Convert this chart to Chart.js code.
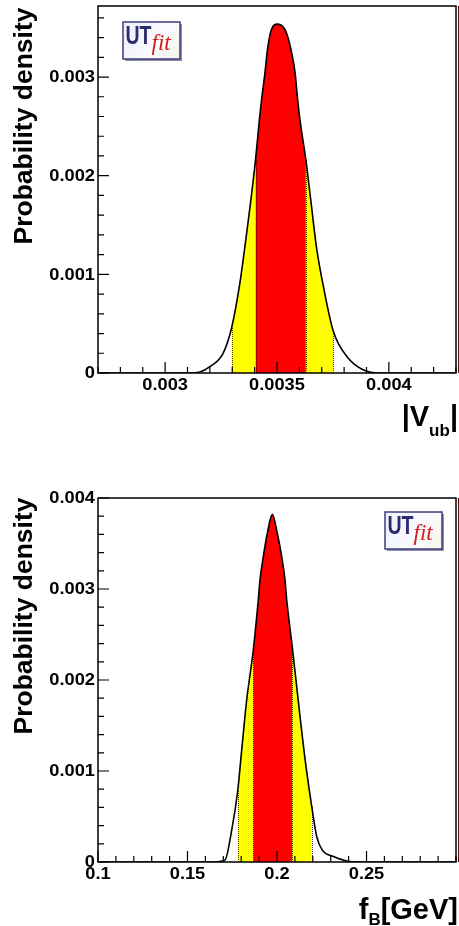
<!DOCTYPE html>
<html>
<head>
<meta charset="utf-8">
<script src="https://cdn.jsdelivr.net/npm/chart.js@4"></script>
<style>
  body { margin: 0; background: #fff; }
  canvas { display: block; }
</style>
</head>
<body>
<canvas id="vubChart" width="459" height="463"></canvas>
<canvas id="fbChart" width="459" height="463"></canvas>
<script>
// |Vub| probability density
const vubX = [0.0027, 0.0031, 0.003155, 0.0032, 0.003259, 0.003297, 0.003334, 0.003364, 0.003383, 0.003404,
  0.003421, 0.003431, 0.003446, 0.003457, 0.003472, 0.003503, 0.00354, 0.003566, 0.003581, 0.003591,
  0.003603, 0.003629, 0.003651, 0.003678, 0.003708, 0.003752, 0.003813, 0.003887, 0.00396, 0.0043];
const vubY = [0, 0, 0.00001, 0.000064, 0.0002, 0.000456, 0.00091, 0.00141, 0.00175, 0.00216,
  0.00256, 0.00277, 0.00304, 0.00327, 0.00346, 0.003536, 0.00346, 0.00324, 0.00304, 0.0028,
  0.00256, 0.00216, 0.00175, 0.00125, 0.00087, 0.00042, 0.000165, 0.00003, 0, 0];
const vubBand95 = [0.003297, 0.003752];
const vubBand68 = [0.003404, 0.003629];
const vubTicksX = [0.003, 0.0035, 0.004];
const vubTickLabelsX = ['0.003', '0.0035', '0.004'];
const vubTicksY = [0, 0.001, 0.002, 0.003];
const vubTickLabelsY = ['0', '0.001', '0.002', '0.003'];

// fB probability density
const fbX = [0.1, 0.1635, 0.1709, 0.1747, 0.17804, 0.18028, 0.18307, 0.18676, 0.18955, 0.1905,
  0.19235, 0.19458, 0.19737, 0.20017, 0.20263, 0.20447, 0.20542, 0.20855, 0.21285, 0.2162,
  0.21939, 0.22218, 0.2253, 0.2315, 0.239, 0.2464, 0.3];
const fbY = [0, 0, 0.00002, 0.00035, 0.00078, 0.00123, 0.00178, 0.00233, 0.00288, 0.0031,
  0.003355, 0.00361, 0.00382, 0.00361, 0.003355, 0.0031, 0.00288, 0.00236, 0.0016, 0.00105,
  0.00061, 0.00028, 0.00013, 0.00006, 0.00001, 0, 0];
const fbBand95 = [0.17804, 0.21939];
const fbBand68 = [0.18676, 0.20855];
const fbTicksX = [0.1, 0.15, 0.2, 0.25];
const fbTickLabelsX = ['0.1', '0.15', '0.2', '0.25'];
const fbTicksY = [0, 0.001, 0.002, 0.003, 0.004];
const fbTickLabelsY = ['0', '0.001', '0.002', '0.003', '0.004'];

const FONT = '"Liberation Sans", Arial, Helvetica, sans-serif';

function points(xs, ys, lo, hi) {
  return xs.map((x, i) => ({ x: x, y: ys[i] }))
    .filter(p => p.x >= lo - 1e-12 && p.x <= hi + 1e-12);
}

function wideText(ctx, text, x, y, sx, align) {
  ctx.save();
  ctx.translate(x, y);
  ctx.scale(sx, 1);
  ctx.textAlign = align;
  ctx.fillText(text, 0, 0);
  ctx.restore();
}

function drawLogo(ctx, x, y) {
  ctx.save();
  ctx.fillStyle = '#8e8ea6';
  ctx.fillRect(x + 2, y + 2, 57, 37);
  const g = ctx.createLinearGradient(x, y, x + 57, y + 37);
  g.addColorStop(0, '#eceffb');
  g.addColorStop(0.6, '#fbfbff');
  g.addColorStop(1, '#f6f3e6');
  ctx.fillStyle = g;
  ctx.fillRect(x, y, 57, 37);
  ctx.strokeStyle = '#3c3c7c';
  ctx.lineWidth = 1.5;
  ctx.strokeRect(x, y, 57, 37);
  ctx.fillStyle = '#2b2b70';
  ctx.font = 'bold 25px ' + FONT;
  ctx.textBaseline = 'alphabetic';
  wideText(ctx, 'UT', x + 2.5, y + 21.5, 0.78, 'left');
  ctx.fillStyle = '#d41c1c';
  ctx.font = 'italic 23px "Liberation Serif", "DejaVu Serif", serif';
  ctx.textAlign = 'left';
  ctx.fillText('fit', x + 28.5, y + 28);
  ctx.restore();
}

function rootFrame(cfg) {
  return {
    id: 'rootFrame',
    afterDatasetsDraw(chart) {
      const ctx = chart.ctx;
      const a = chart.chartArea;
      const xs = chart.scales.x;
      const ys = chart.scales.y;
      ctx.save();

      // dotted edges of the bands
      ctx.strokeStyle = 'rgba(0,0,0,0.75)';
      ctx.lineWidth = 1;
      ctx.setLineDash([1, 1]);
      cfg.edges.forEach(b => {
        const i = cfg.xData.findIndex(v => Math.abs(v - b) < 1e-12);
        const px = Math.round(xs.getPixelForValue(b)) + 0.5;
        ctx.beginPath();
        ctx.moveTo(px, a.bottom);
        ctx.lineTo(px, ys.getPixelForValue(cfg.yData[i]));
        ctx.stroke();
      });
      ctx.setLineDash([]);

      // frame
      ctx.strokeStyle = '#000';
      ctx.lineWidth = 1.5;
      ctx.strokeRect(a.left, a.top, a.right - a.left, a.bottom - a.top);
      ctx.strokeStyle = '#5a1212';
      ctx.lineWidth = 1;
      ctx.beginPath();
      ctx.moveTo(458.5, a.top);
      ctx.lineTo(458.5, a.bottom);
      ctx.stroke();

      // ticks, pointing into the frame
      ctx.strokeStyle = '#000';
      ctx.lineWidth = 1.2;
      ctx.beginPath();
      for (let i = 0; ; i++) {
        const v = xs.min + i * cfg.minorX;
        if (v > xs.max + 1e-12) break;
        const major = cfg.ticksX.some(t => Math.abs(t - v) < cfg.minorX / 10);
        const px = xs.getPixelForValue(v);
        ctx.moveTo(px, a.bottom);
        ctx.lineTo(px, a.bottom - (major ? 11 : 6));
      }
      for (let i = 0; ; i++) {
        const v = ys.min + i * cfg.minorY;
        if (v > ys.max + 1e-12) break;
        const major = cfg.ticksY.some(t => Math.abs(t - v) < cfg.minorY / 10);
        const py = ys.getPixelForValue(v);
        ctx.moveTo(a.left, py);
        ctx.lineTo(a.left + (major ? 11 : 6), py);
      }
      ctx.stroke();

      // tick labels
      ctx.fillStyle = '#000';
      ctx.font = 'bold 16px ' + FONT;
      ctx.textBaseline = 'middle';
      cfg.ticksX.forEach((t, i) => {
        wideText(ctx, cfg.labelsX[i], xs.getPixelForValue(t), a.bottom + 13, 1.14, 'center');
      });
      cfg.ticksY.forEach((t, i) => {
        wideText(ctx, cfg.labelsY[i], a.left - 3, ys.getPixelForValue(t) + 1, 1.14, 'right');
      });

      // y title
      ctx.save();
      ctx.font = 'bold 26.5px ' + FONT;
      ctx.textBaseline = 'alphabetic';
      ctx.textAlign = 'center';
      ctx.translate(32, cfg.yTitleCenter);
      ctx.rotate(-Math.PI / 2);
      ctx.fillText('Probability density', 0, 0);
      ctx.restore();

      // x title with subscript, right aligned
      ctx.textBaseline = 'alphabetic';
      ctx.textAlign = 'left';
      const mainFont = 'bold 29px ' + FONT;
      const subFont = 'bold 17px ' + FONT;
      ctx.font = mainFont;
      const w1 = ctx.measureText(cfg.xTitle[0]).width;
      const w3 = ctx.measureText(cfg.xTitle[2]).width;
      ctx.font = subFont;
      const w2 = ctx.measureText(cfg.xTitle[1]).width;
      let x0 = 458 - (w1 + w2 + w3);
      ctx.font = mainFont;
      ctx.fillText(cfg.xTitle[0], x0, cfg.xTitleBase);
      ctx.font = subFont;
      ctx.fillText(cfg.xTitle[1], x0 + w1, cfg.xTitleBase + cfg.subDrop);
      ctx.font = mainFont;
      ctx.fillText(cfg.xTitle[2], x0 + w1 + w2, cfg.xTitleBase);

      drawLogo(ctx, cfg.logo[0], cfg.logo[1]);
      ctx.restore();
    }
  };
}

function makeChart(id, cfg) {
  return new Chart(document.getElementById(id), {
    type: 'line',
    data: {
      datasets: [
        {
          data: points(cfg.xData, cfg.yData, -Infinity, Infinity),
          borderColor: '#000',
          borderWidth: 1.6,
          fill: false,
          order: 0
        },
        {
          data: points(cfg.xData, cfg.yData, cfg.band68[0], cfg.band68[1]),
          borderWidth: 0,
          backgroundColor: '#ff0000',
          fill: 'origin',
          order: 1
        },
        {
          data: points(cfg.xData, cfg.yData, cfg.band95[0], cfg.band95[1]),
          borderWidth: 0,
          backgroundColor: '#ffff00',
          fill: 'origin',
          order: 2
        }
      ]
    },
    options: {
      responsive: false,
      animation: false,
      devicePixelRatio: 1,
      layout: { padding: cfg.padding },
      plugins: { legend: { display: false }, tooltip: { enabled: false } },
      elements: {
        point: { radius: 0 },
        line: { cubicInterpolationMode: 'monotone' }
      },
      scales: {
        x: { type: 'linear', min: cfg.xRange[0], max: cfg.xRange[1], display: false },
        y: { type: 'linear', min: 0, max: cfg.yMax, display: false }
      }
    },
    plugins: [rootFrame(cfg)]
  });
}

makeChart('vubChart', {
  xData: vubX, yData: vubY, band95: vubBand95, band68: vubBand68,
  edges: [vubBand95[0], vubBand68[0], vubBand68[1], vubBand95[1]],
  xRange: [0.0027, 0.0043], yMax: 0.00372,
  ticksX: vubTicksX, labelsX: vubTickLabelsX, minorX: 0.0001,
  ticksY: vubTicksY, labelsY: vubTickLabelsY, minorY: 0.0002,
  padding: { left: 98, right: 3, top: 6, bottom: 90 },
  yTitleCenter: 126,
  xTitle: ['|V', 'ub', '|'], xTitleBase: 426, subDrop: 10,
  logo: [123, 22]
});

makeChart('fbChart', {
  xData: fbX, yData: fbY, band95: fbBand95, band68: fbBand68,
  edges: [fbBand95[0], fbBand68[0], fbBand68[1], fbBand95[1]],
  xRange: [0.1, 0.3], yMax: 0.004,
  ticksX: fbTicksX, labelsX: fbTickLabelsX, minorX: 0.01,
  ticksY: fbTicksY, labelsY: fbTickLabelsY, minorY: 0.0002,
  padding: { left: 98, right: 3, top: 35, bottom: 64 },
  yTitleCenter: 153,
  xTitle: ['f', 'B', '[GeV]'], xTitleBase: 456, subDrop: 6,
  logo: [385, 49]
});
</script>
</body>
</html>
